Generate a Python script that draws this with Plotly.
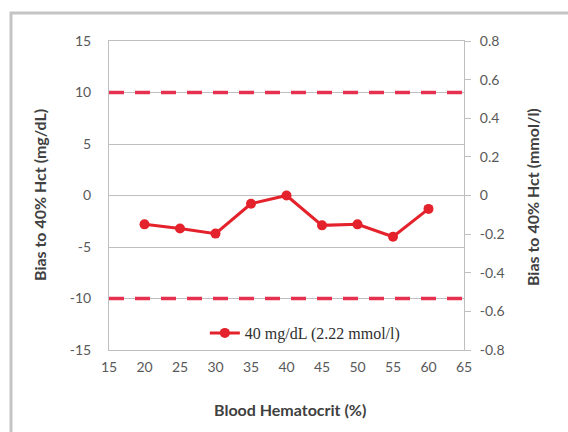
import plotly.graph_objects as go

# Data
hematocrit = [20, 25, 30, 35, 40, 45, 50, 55, 60]
bias_mgdl = [-2.8, -3.2, -3.7, -0.8, 0.0, -2.9, -2.8, -4.0, -1.3]
series_name = "40 mg/dL (2.22 mmol/l)"
limit_values = [10, -10]
x_range = [15, 65]
left_ticks = [15, 10, 5, 0, -5, -10, -15]
left_ticktext = ["15", "10", "5", "0", "-5", "-10", "-15"]
right_ticks = [0.8, 0.6, 0.4, 0.2, 0, -0.2, -0.4, -0.6, -0.8]
right_ticktext = ["0.8", "0.6", "0.4", "0.2", "0", "-0.2", "-0.4", "-0.6", "-0.8"]
x_ticks = [15, 20, 25, 30, 35, 40, 45, 50, 55, 60, 65]

RED = "#E3222B"
DASH_RED = "#E5304F"
TICK_COLOR = "#595959"
TITLE_COLOR = "#404040"
FONT = "Lato, Open Sans, sans-serif"

fig = go.Figure()

for lv in limit_values:
    fig.add_trace(go.Scatter(
        x=x_range, y=[lv, lv], mode="lines",
        line=dict(color=DASH_RED, width=3.5, dash="15px,11px"),
        showlegend=False, hoverinfo="skip"))

fig.add_trace(go.Scatter(
    x=hematocrit, y=bias_mgdl, mode="lines+markers", name=series_name,
    line=dict(color=RED, width=3),
    marker=dict(color=RED, size=10, symbol="circle")))

# invisible trace to activate the right axis
fig.add_trace(go.Scatter(x=[None], y=[None], yaxis="y2", showlegend=False,
                         hoverinfo="skip"))

fig.update_layout(
    width=568, height=432,
    margin=dict(l=109, r=104, t=41, b=82),
    paper_bgcolor="white", plot_bgcolor="white",
    font=dict(family=FONT, size=14, color=TICK_COLOR),
    showlegend=True,
    legend=dict(x=0.27, y=0.055, xanchor="left", yanchor="middle",
                bgcolor="rgba(0,0,0,0)",
                font=dict(family="Liberation Serif, serif", size=16, color="#303030")),
    xaxis=dict(range=x_range, tickvals=x_ticks, showgrid=False, zeroline=False,
               showline=True, linecolor="#bfbfbf", linewidth=1, mirror=True,
               ticks="", ticklabelstandoff=4),
    yaxis=dict(range=[-15, 15], tickvals=left_ticks, ticktext=left_ticktext,
               showgrid=True, gridcolor="#bfbfbf", gridwidth=1, zeroline=False,
               showline=True, linecolor="#bfbfbf", linewidth=1, mirror=True,
               ticks="", ticklabelstandoff=14),
    yaxis2=dict(range=[-0.8, 0.8], tickvals=right_ticks, ticktext=right_ticktext,
                overlaying="y", side="right", showgrid=False, zeroline=False,
                showline=True, linecolor="#bfbfbf", linewidth=1,
                ticks="outside", ticklen=6, tickcolor="#bfbfbf",
                ticklabelstandoff=6),
)

fig.add_annotation(text="Bias to 40% Hct (mg/dL)", xref="paper", yref="paper",
                   x=-0.194, y=0.502, textangle=-90, showarrow=False,
                   xanchor="center", yanchor="middle",
                   font=dict(family=FONT, size=16, color=TITLE_COLOR, weight="bold"))
fig.add_annotation(text="Bias to 40% Hct (mmol/l)", xref="paper", yref="paper",
                   x=1.1915, y=0.495, textangle=-90, showarrow=False,
                   xanchor="center", yanchor="middle",
                   font=dict(family=FONT, size=16, color=TITLE_COLOR, weight="bold"))
fig.add_annotation(text="Blood Hematocrit (%)", xref="paper", yref="paper",
                   x=0.51, y=-0.194, showarrow=False,
                   xanchor="center", yanchor="middle",
                   font=dict(family=FONT, size=16, color=TITLE_COLOR, weight="bold"))

# outer chart border
fig.add_shape(type="rect", xref="paper", yref="paper",
              x0=-0.276, x1=1.31, y0=-0.3, y1=1.0906,
              line=dict(color="#c4c4c4", width=3), layer="below")

fig.write_html("out.html")
